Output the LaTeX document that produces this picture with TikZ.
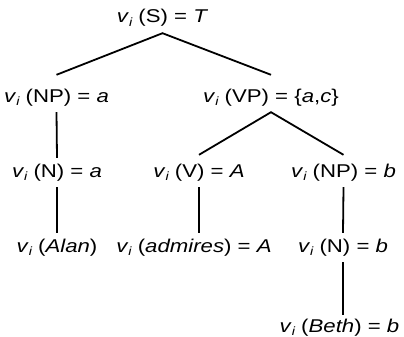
\documentclass[tikz,border=0pt]{standalone}
\usepackage{fontspec}
\usepackage{tikz}
\newfontfamily\treefont{Liberation Sans}[FakeStretch=1.2]
\newcommand{\vsub}{\textit{v}\raisebox{-0.35ex}{\fontsize{12}{12}\selectfont\itshape i}}

\begin{document}
\begin{tikzpicture}[
    x=1pt, y=-1pt,
    lbl/.style={anchor=base, inner xsep=0pt, inner ysep=6pt,
                text height=13pt, text depth=4pt,
                font=\treefont\fontsize{18.5}{20}\selectfont},
    branch/.style={line width=1.8pt}
]
    \useasboundingbox (0,0) rectangle (404,337);

    % Root
    \node[lbl] (s) at (162.5,23) {\vsub\ (S) = \textit{T}};

    % Subject and predicate
    \node[lbl] (np) at (56.5,102) {\vsub\ (NP) = \textit{a}};
    \node[lbl] (vp) at (271,102) {\vsub\ (VP) = \{\textit{a},\textit{c}\}};

    % Second level
    \node[lbl] (n) at (57,177) {\vsub\ (N) = \textit{a}};
    \node[lbl] (v) at (199,177) {\vsub\ (V) = \textit{A}};
    \node[lbl] (npobj) at (343.5,177) {\vsub\ (NP) = \textit{b}};

    % Words
    \node[lbl] (alan) at (57,252) {\vsub\ (\textit{Alan})};
    \node[lbl] (admires) at (194,252) {\vsub\ (\textit{admires}) = \textit{A}};
    \node[lbl] (nobj) at (343,252) {\vsub\ (N) = \textit{b}};
    \node[lbl] (beth) at (339.5,332) {\vsub\ (\textit{Beth}) = \textit{b}};

    % Branches
    \draw[branch] ([yshift=8pt]np.north) -- (s.south) -- ([yshift=8pt]vp.north);
    \draw[branch] ([yshift=3pt]v.north) -- (vp.south) -- ([yshift=3pt]npobj.north);
    \draw[branch] (np.south) -- (n.north);
    \draw[branch] (n.south) -- (n.south |- alan.north);
    \draw[branch] (v.south) -- (v.south |- admires.north);
    \draw[branch] (npobj.south) -- (nobj.north);
    \draw[branch] (nobj.south) -- ([yshift=-2pt]nobj.south |- beth.north);
\end{tikzpicture}
\end{document}
